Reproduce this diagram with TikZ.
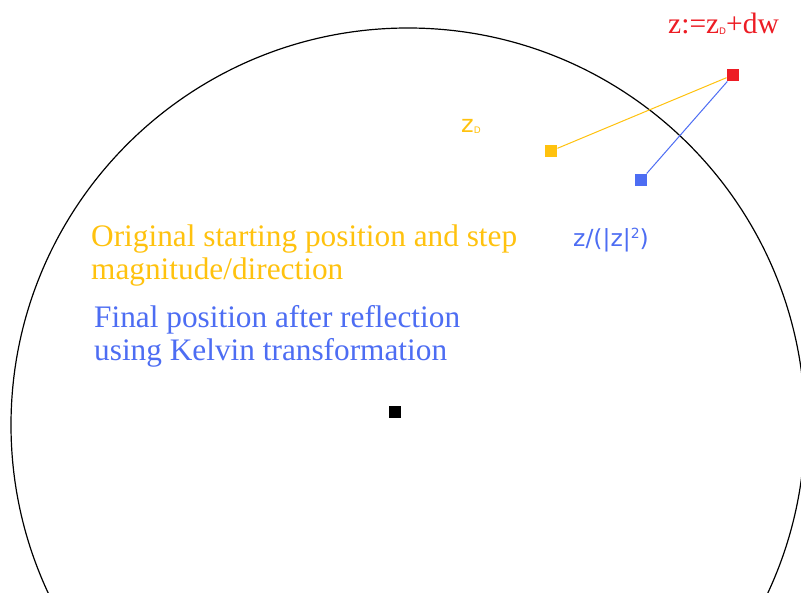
\documentclass[tikz,border=0pt]{standalone}
\usepackage{fontspec}
\setmainfont{Liberation Serif}
\newfontfamily\labelsans{DejaVu Sans}
\usetikzlibrary{positioning}
\definecolor{ink}{HTML}{000000}
\definecolor{startyellow}{HTML}{FFC20E}
\definecolor{stepred}{HTML}{ED1C24}
\definecolor{kelvinblue}{HTML}{4D6DF3}
\tikzset{
  dot/.style={rectangle,minimum size=12.5pt,inner sep=0pt},
  legendtext/.style={anchor=base west,inner sep=0pt,align=left,font=\fontsize{31.3}{33}\selectfont},
  pointlabel/.style={anchor=base west,inner sep=0pt},
  joinline/.style={line width=1pt}
}
\begin{document}
\begin{tikzpicture}[x=1pt,y=-1pt]
  \clip (0,0) rectangle (801,593);
  \fill[white] (0,0) rectangle (801,593);
  % unit circle
  \draw[ink,line width=1.2pt] (408,425) circle (397);
  \node[dot,fill=ink] (origin) at (395,412) {};

  % points
  \node[dot,fill=startyellow] (zD) at (551,151) {};
  \node[dot,fill=stepred] (z) at (733,75) {};
  \node[dot,fill=kelvinblue] (zK) at (641,180) {};
  \draw[joinline,startyellow] (zD) -- (z);
  \draw[joinline,kelvinblue] (z) -- (zK);

  % labels
  \node[pointlabel,text=stepred,font=\fontsize{29.5}{30}\selectfont] (zlab) at (668,34)
    {z:=z\raisebox{-0.5pt}{\labelsans\fontsize{9}{9}\selectfont D}+dw};
  \node[pointlabel,text=startyellow,font=\labelsans\fontsize{24}{28}\selectfont] (zDlab) at (461,133)
    {z\raisebox{-1pt}{\fontsize{9}{9}\selectfont D}};
  \node[pointlabel,text=kelvinblue,font=\labelsans\fontsize{23.5}{28}\selectfont] (zKlab) at (573,247)
    {z/(|z|\raisebox{8pt}{\fontsize{14}{14}\selectfont 2})};

  \node[legendtext,text=startyellow] (startnote) at (91,280)
    {Original starting position and step\\magnitude/direction};
  \node[legendtext,text=kelvinblue] (kelvinnote) at (94,361)
    {Final position after reflection\\using Kelvin transformation};
\end{tikzpicture}
\end{document}
